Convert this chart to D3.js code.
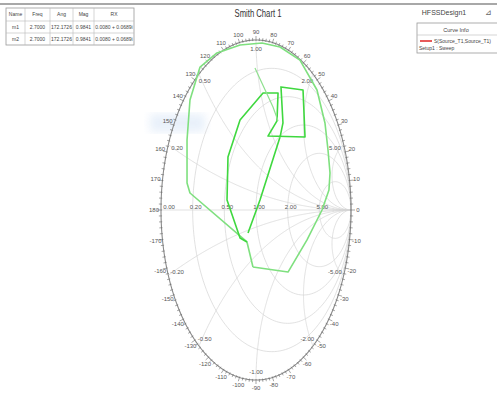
<!DOCTYPE html>
<html>
<head>
<meta charset="utf-8">
<script src="https://cdn.jsdelivr.net/npm/d3@7"></script>
<style>
  html, body { margin: 0; padding: 0; background: #fff; }
  svg { display: block; font-family: "Liberation Sans", Arial, sans-serif; }
</style>
</head>
<body>
<svg id="chart" width="497" height="398"></svg>
<script>
// ---- data -------------------------------------------------------------
const resistanceValues = [0.2, 0.5, 1, 2, 5];
const reactanceValues = [0.2, 0.5, 1, 2, 5, -0.2, -0.5, -1, -2, -5];
const angleLabels = d3.range(-170, 181, 10);

// S11 sweep, outer loop (reflection coefficient, real / imag)
const loopRe = [-0.032, 0.337, 0.537, 0.695, 0.768, 0.779, 0.758, 0.726, 0.642, 0.463, 0.253, 0.063,
                -0.168, -0.411, -0.589, -0.695, -0.726, -0.726, -0.695, -0.095, -0.032];
const loopIm = [-0.335, -0.365, -0.176, 0.0, 0.118, 0.218, 0.353, 0.512, 0.706, 0.882, 0.959, 0.982,
                0.971, 0.924, 0.841, 0.647, 0.412, 0.159, 0.100, -0.188, -0.335];

// S11 sweep, inner section
const innerRe = [-0.095, -0.168, -0.305, -0.295, -0.168, 0.074, 0.232, 0.221, 0.126, 0.516, 0.495, 0.263, 0.284, 0.253, 0.042, -0.084];
const innerIm = [-0.188, -0.165, 0.059, 0.312, 0.529, 0.688, 0.688, 0.524, 0.435, 0.429, 0.706, 0.724, 0.512, 0.429, 0.059, -0.135];

// short spur from the upper region
const spurRe = [-0.011, 0.179, 0.232];
const spurIm = [0.835, 0.606, 0.524];

const markerCols = ["Name", "Freq", "Ang", "Mag", "RX"];
const markerRows = [
  ["m1", "2.7000", "172.1726", "0.9841", "0.0080 + 0.0689i"],
  ["m2", "2.7000", "172.1726", "0.9841", "0.0080 + 0.0689i"]
];

// ---- layout -----------------------------------------------------------
const svg = d3.select("#chart");
const x = d3.scaleLinear().domain([-1, 1]).range([161, 351]);
const y = d3.scaleLinear().domain([-1, 1]).range([380, 40]);
const cx = x(0), cy = y(0), rx = x(1) - x(0), ry = y(0) - y(1);

function gamma(zr, zi) {
  const d = (zr + 1) * (zr + 1) + zi * zi;
  return [(zr * zr - 1 + zi * zi) / d, 2 * zi / d];
}
const line = d3.line().x(d => x(d[0])).y(d => y(d[1]));

// faint highlight patch
const defs = svg.append("defs");
defs.append("filter").attr("id", "soft").append("feGaussianBlur").attr("stdDeviation", 4);
svg.append("rect").attr("x", 150).attr("y", 114).attr("width", 55).attr("height", 18)
  .attr("fill", "#e3edf9").attr("opacity", 0.8).attr("filter", "url(#soft)");

// top rule
svg.append("rect").attr("x", 0).attr("y", 3).attr("width", 497).attr("height", 2).attr("fill", "#a8a8a8");

// ---- grid ------------------------------------------------------------
const grid = svg.append("g").attr("fill", "none").attr("stroke", "#d4d4d4").attr("stroke-width", 0.7);
// real axis
grid.append("path").attr("d", line([[-1, 0], [1, 0]]));
// constant resistance circles
resistanceValues.forEach(r => {
  const c = r / (r + 1), rad = 1 / (r + 1);
  const pts = d3.range(0, 361, 2).map(a => [c + rad * Math.cos(a * Math.PI / 180), rad * Math.sin(a * Math.PI / 180)]);
  grid.append("path").attr("d", line(pts));
});
// constant reactance arcs
reactanceValues.forEach(xv => {
  const pts = d3.range(0, 90, 0.5).map(p => gamma(Math.tan(p * Math.PI / 180), xv));
  pts.push([1, 0]);
  grid.append("path").attr("d", line(pts));
});

// ---- outer boundary and ticks ---------------------------------------
const bound = d3.range(0, 361, 1).map(a => [Math.cos(a * Math.PI / 180), Math.sin(a * Math.PI / 180)]);
svg.append("path").attr("d", line(bound)).attr("fill", "none").attr("stroke", "#8a8a8a").attr("stroke-width", 1.1);

const ticks = svg.append("g").attr("stroke", "#6a6a6a").attr("stroke-width", 0.6);
d3.range(0, 360, 2).forEach(a => {
  const t = a * Math.PI / 180;
  const len = a % 10 === 0 ? 4 : 2.2;
  const ox = Math.cos(t), oy = Math.sin(t);
  // outward normal of the ellipse
  let nx = ox / rx, ny = oy / ry; const nl = Math.hypot(nx, ny); nx /= nl; ny /= nl;
  const px = x(ox), py = y(oy);
  ticks.append("line")
    .attr("x1", px - nx * 1).attr("y1", py + ny * 1)
    .attr("x2", px + nx * len).attr("y2", py - ny * len);
});

// ---- labels ------------------------------------------------------------
const lab = svg.append("g").attr("font-size", 6).attr("fill", "#555").attr("text-anchor", "middle");
angleLabels.forEach(a => {
  const t = a * Math.PI / 180;
  lab.append("text")
    .attr("x", cx + (rx + 7) * Math.cos(t))
    .attr("y", cy - (ry + 8) * Math.sin(t) + 2)
    .text(a);
});
// real-axis resistance labels
const realLabels = [0].concat(resistanceValues);
realLabels.forEach(r => {
  const g = (r - 1) / (r + 1);
  lab.append("text").attr("x", x(g) + (r === 0 ? 8 : 3)).attr("y", y(0) - 1.5).text(r.toFixed(2));
});
// reactance labels along the rim
reactanceValues.forEach(xv => {
  const g = gamma(0, xv);
  lab.append("text").attr("x", x(g[0] * 0.9)).attr("y", y(g[1] * 0.95) + 2).text(xv.toFixed(2));
});

// ---- sweep traces --------------------------------------------------------
const zip = (a, b) => a.map((v, i) => [v, b[i]]);
svg.append("path").attr("d", line(zip(loopRe, loopIm)))
  .attr("fill", "none").attr("stroke", "#7fe07f").attr("stroke-width", 1.6).attr("stroke-linejoin", "round");
svg.append("path").attr("d", line(zip(innerRe, innerIm)))
  .attr("fill", "none").attr("stroke", "#3fd83f").attr("stroke-width", 1.6).attr("stroke-linejoin", "round");
svg.append("path").attr("d", line(zip(spurRe, spurIm)))
  .attr("fill", "none").attr("stroke", "#8fe08f").attr("stroke-width", 1.2);

// ---- title & design name ---------------------------------------------
svg.append("text").attr("x", 258).attr("y", 17).attr("text-anchor", "middle")
  .attr("font-family", "'Liberation Sans Narrow', 'Liberation Sans', Arial, sans-serif")
  .attr("font-size", 11).attr("fill", "#333")
  .attr("textLength", 47).attr("lengthAdjust", "spacingAndGlyphs").text("Smith Chart 1");
svg.append("text").attr("x", 444).attr("y", 15).attr("text-anchor", "middle")
  .attr("font-size", 7).attr("fill", "#444").text("HFSSDesign1");
svg.append("text").attr("x", 488).attr("y", 15).attr("text-anchor", "middle")
  .attr("font-size", 8).attr("fill", "#666").text("⊿");

// ---- marker table ------------------------------------------------------
const colX = [6, 25, 50, 73, 94, 134];
const rowY = [8, 21, 33, 45];
const tbl = svg.append("g");
tbl.append("rect").attr("x", colX[0]).attr("y", rowY[0]).attr("width", colX[5] - colX[0]).attr("height", rowY[3] - rowY[0])
  .attr("fill", "#fff").attr("stroke", "#999").attr("stroke-width", 0.8);
colX.slice(1, 5).forEach(cxv => tbl.append("line").attr("x1", cxv).attr("x2", cxv).attr("y1", rowY[0]).attr("y2", rowY[3]).attr("stroke", "#bbb").attr("stroke-width", 0.6));
rowY.slice(1, 3).forEach(ry2 => tbl.append("line").attr("x1", colX[0]).attr("x2", colX[5]).attr("y1", ry2).attr("y2", ry2).attr("stroke", "#bbb").attr("stroke-width", 0.6));
[markerCols].concat(markerRows).forEach((row, ri) => {
  row.forEach((txt, ci) => {
    tbl.append("text").attr("x", (colX[ci] + colX[ci + 1]) / 2).attr("y", (rowY[ri] + rowY[ri + 1]) / 2 + 1.8)
      .attr("text-anchor", "middle").attr("font-size", 5).attr("fill", "#444").text(txt);
  });
});

// ---- legend ------------------------------------------------------------
const leg = svg.append("g");
leg.append("rect").attr("x", 417).attr("y", 23).attr("width", 86).attr("height", 30)
  .attr("fill", "#fff").attr("stroke", "#999").attr("stroke-width", 0.8);
leg.append("line").attr("x1", 417).attr("x2", 497).attr("y1", 35).attr("y2", 35).attr("stroke", "#bbb").attr("stroke-width", 0.6);
leg.append("text").attr("x", 456).attr("y", 31.5).attr("text-anchor", "middle").attr("font-size", 5.5).attr("fill", "#444").text("Curve Info");
leg.append("line").attr("x1", 420).attr("x2", 432).attr("y1", 41).attr("y2", 41).attr("stroke", "#e03030").attr("stroke-width", 1.6);
leg.append("text").attr("x", 434).attr("y", 43).attr("font-size", 5).attr("fill", "#444").text("S(Source_T1,Source_T1)");
leg.append("text").attr("x", 419).attr("y", 50).attr("font-size", 5).attr("fill", "#444").text("Setup1 : Sweep");
</script>
</body>
</html>
